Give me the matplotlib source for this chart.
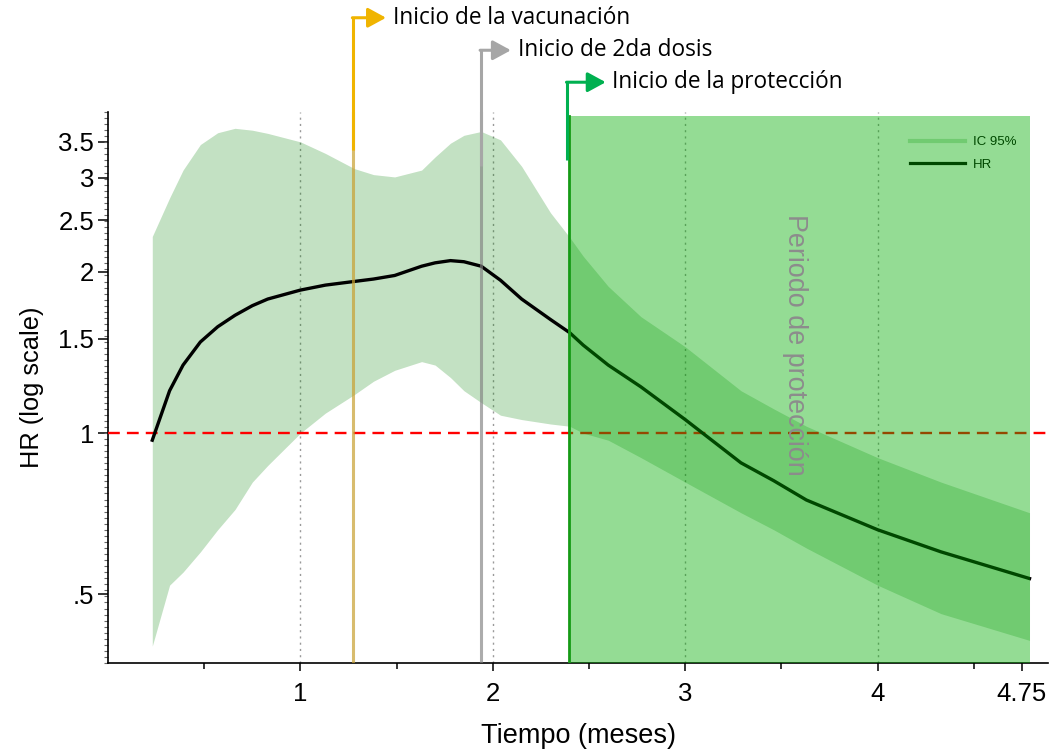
import numpy as np
import matplotlib
matplotlib.use("Agg")
import matplotlib.pyplot as plt
import matplotlib.transforms as mtransforms
from matplotlib.ticker import NullFormatter

# curve (time in months)
tiempo = [0.23, 0.32, 0.39, 0.48, 0.57, 0.66, 0.75, 0.83, 1.00, 1.13, 1.28, 1.38,
          1.49, 1.63, 1.70, 1.78, 1.85, 1.94, 2.04, 2.15, 2.30, 2.40, 2.47, 2.60,
          2.77, 3.00, 3.29, 3.46, 3.63, 4.00, 4.33, 4.79]
hr = [0.97, 1.20, 1.34, 1.48, 1.58, 1.66, 1.73, 1.78, 1.85, 1.89, 1.92, 1.94,
      1.97, 2.05, 2.08, 2.10, 2.09, 2.05, 1.93, 1.78, 1.63, 1.54, 1.46, 1.34,
      1.22, 1.06, 0.88, 0.815, 0.75, 0.66, 0.60, 0.535]
ic_lo = [0.40, 0.52, 0.55, 0.60, 0.66, 0.72, 0.81, 0.87, 1.00, 1.09, 1.18, 1.25,
         1.31, 1.36, 1.34, 1.27, 1.20, 1.14, 1.08, 1.06, 1.04, 1.03, 1.00, 0.97,
         0.90, 0.81, 0.71, 0.66, 0.61, 0.52, 0.46, 0.41]
ic_hi = [2.33, 2.75, 3.10, 3.46, 3.64, 3.71, 3.68, 3.63, 3.50, 3.33, 3.12, 3.04,
         3.01, 3.10, 3.28, 3.48, 3.60, 3.66, 3.53, 3.15, 2.58, 2.32, 2.14, 1.88,
         1.65, 1.45, 1.20, 1.11, 1.03, 0.90, 0.81, 0.71]

ini_vacuna = 1.274
ini_2da = 1.938
ini_prot = 2.395
fin_prot = 4.79

xticks = [1, 2, 3, 4, 4.75]
xtick_labels = ["1", "2", "3", "4", "4.75"]
xminor = [0.5, 1.5, 2.5, 3.5, 4.5]
yticks = [0.5, 1, 1.5, 2, 2.5, 3, 3.5]
ytick_labels = [".5", "1", "1.5", "2", "2.5", "3", "3.5"]
grid_x = [1, 2, 3, 4]

plt.rcParams["font.family"] = ["Liberation Sans", "DejaVu Sans"]

fig = plt.figure(figsize=(10.54, 7.49), dpi=100)
ax = fig.add_axes([0.1025, 0.1148, 0.8918, 0.7357])
ax.set_yscale("log")
ax.set_xlim(0, 4.886)
ax.set_ylim(0.372, 3.98)

for g in grid_x:
    ax.axvline(g, color="#9a9a9a", lw=1, linestyle=(0, (1.5, 3)), zorder=1)

ax.fill_between(tiempo, ic_lo, ic_hi, color="green", alpha=0.235, lw=0, zorder=2)
ax.axhline(1, color="red", lw=1.7, linestyle=(0, (5, 3)), zorder=3)
ax.plot(tiempo, hr, color="black", lw=2.4, zorder=3, solid_joinstyle="round")

ax.axvline(ini_vacuna, color="#c8a030", alpha=0.7, lw=2.2, zorder=3)
ax.axvline(ini_2da, color="#808080", alpha=0.65, lw=2.2, zorder=3)

# legend sits under the protection box, like the reference
band_proxy, = ax.plot([], [], color="#c3e2c3", lw=3)
hr_proxy, = ax.plot([], [], color="black", lw=2.3)
leg = ax.legend([band_proxy, hr_proxy], ["IC 95%", "HR"], loc="upper left",
                bbox_to_anchor=(0.846, 0.968), frameon=False, fontsize=9.5,
                handlelength=4.2, handletextpad=0.6, labelspacing=0.75,
                borderpad=0)
leg.set_zorder(4)

ax.axvspan(ini_prot, fin_prot, ymin=0, ymax=0.993, color="#00ad00",
           alpha=0.42, lw=0, zorder=5)
ax.axvline(ini_prot, ymax=0.993, color="#159a15", lw=2, zorder=6)

ax.text(3.573, 1.46, "Periodo de protección", rotation=270, ha="center",
        va="center", fontsize=19.4, color="#8c8c8c", zorder=7)

# connectors with arrows above the plot
blend = mtransforms.blended_transform_factory(ax.transData, ax.transAxes)
marcas = [
    (ini_vacuna, 0.931, 1.171, 1.445, "#f0b400", "Inicio de la vacunación"),
    (ini_2da, 0.902, 1.112, 2.094, "#a6a6a6", "Inicio de 2da dosis"),
    (ini_prot - 0.008, 0.913, 1.054, 2.587, "#00b050", "Inicio de la protección"),
]
for x0, yb, yt, xtip, col, txt in marcas:
    ax.plot([x0, x0], [yb, yt], color=col, lw=2.2, transform=blend,
            clip_on=False, zorder=8, solid_capstyle="butt")
    ax.annotate("", xy=(xtip, yt), xytext=(x0 - 0.004, yt), xycoords=blend,
                textcoords=blend,
                arrowprops=dict(arrowstyle="-|>,head_length=0.55,head_width=0.3",
                                color=col, lw=2.2, shrinkA=0, shrinkB=0,
                                mutation_scale=20), zorder=8)
    ax.text(xtip + 0.035, yt, txt, transform=blend, ha="left", va="center",
            fontsize=16.3, family=["Open Sans", "DejaVu Sans"], color="black")

ax.spines["top"].set_visible(False)
ax.spines["right"].set_visible(False)
ax.spines["left"].set_linewidth(1.2)
ax.spines["bottom"].set_linewidth(1.2)

ax.set_xticks(xticks)
ax.set_xticklabels(xtick_labels, fontsize=18.5)
ax.set_xticks(xminor, minor=True)
ax.set_yticks(yticks)
ax.set_yticklabels(ytick_labels, fontsize=18.5)
ax.set_yticks(np.geomspace(0.372, 3.98, 92), minor=True)
ax.yaxis.set_minor_formatter(NullFormatter())
ax.tick_params(axis="y", which="major", length=7, width=1.1, pad=3)
ax.tick_params(axis="y", which="minor", length=3, width=0.8, color="#666666")
ax.tick_params(axis="x", which="major", length=6, width=1.1, pad=8)
ax.tick_params(axis="x", which="minor", length=4, width=1.1)

ax.set_xlabel("Tiempo (meses)", fontsize=19.5, labelpad=12)
ax.set_ylabel("HR (log scale)", fontsize=18.3, labelpad=10)

fig.savefig("out.png", dpi=100)
